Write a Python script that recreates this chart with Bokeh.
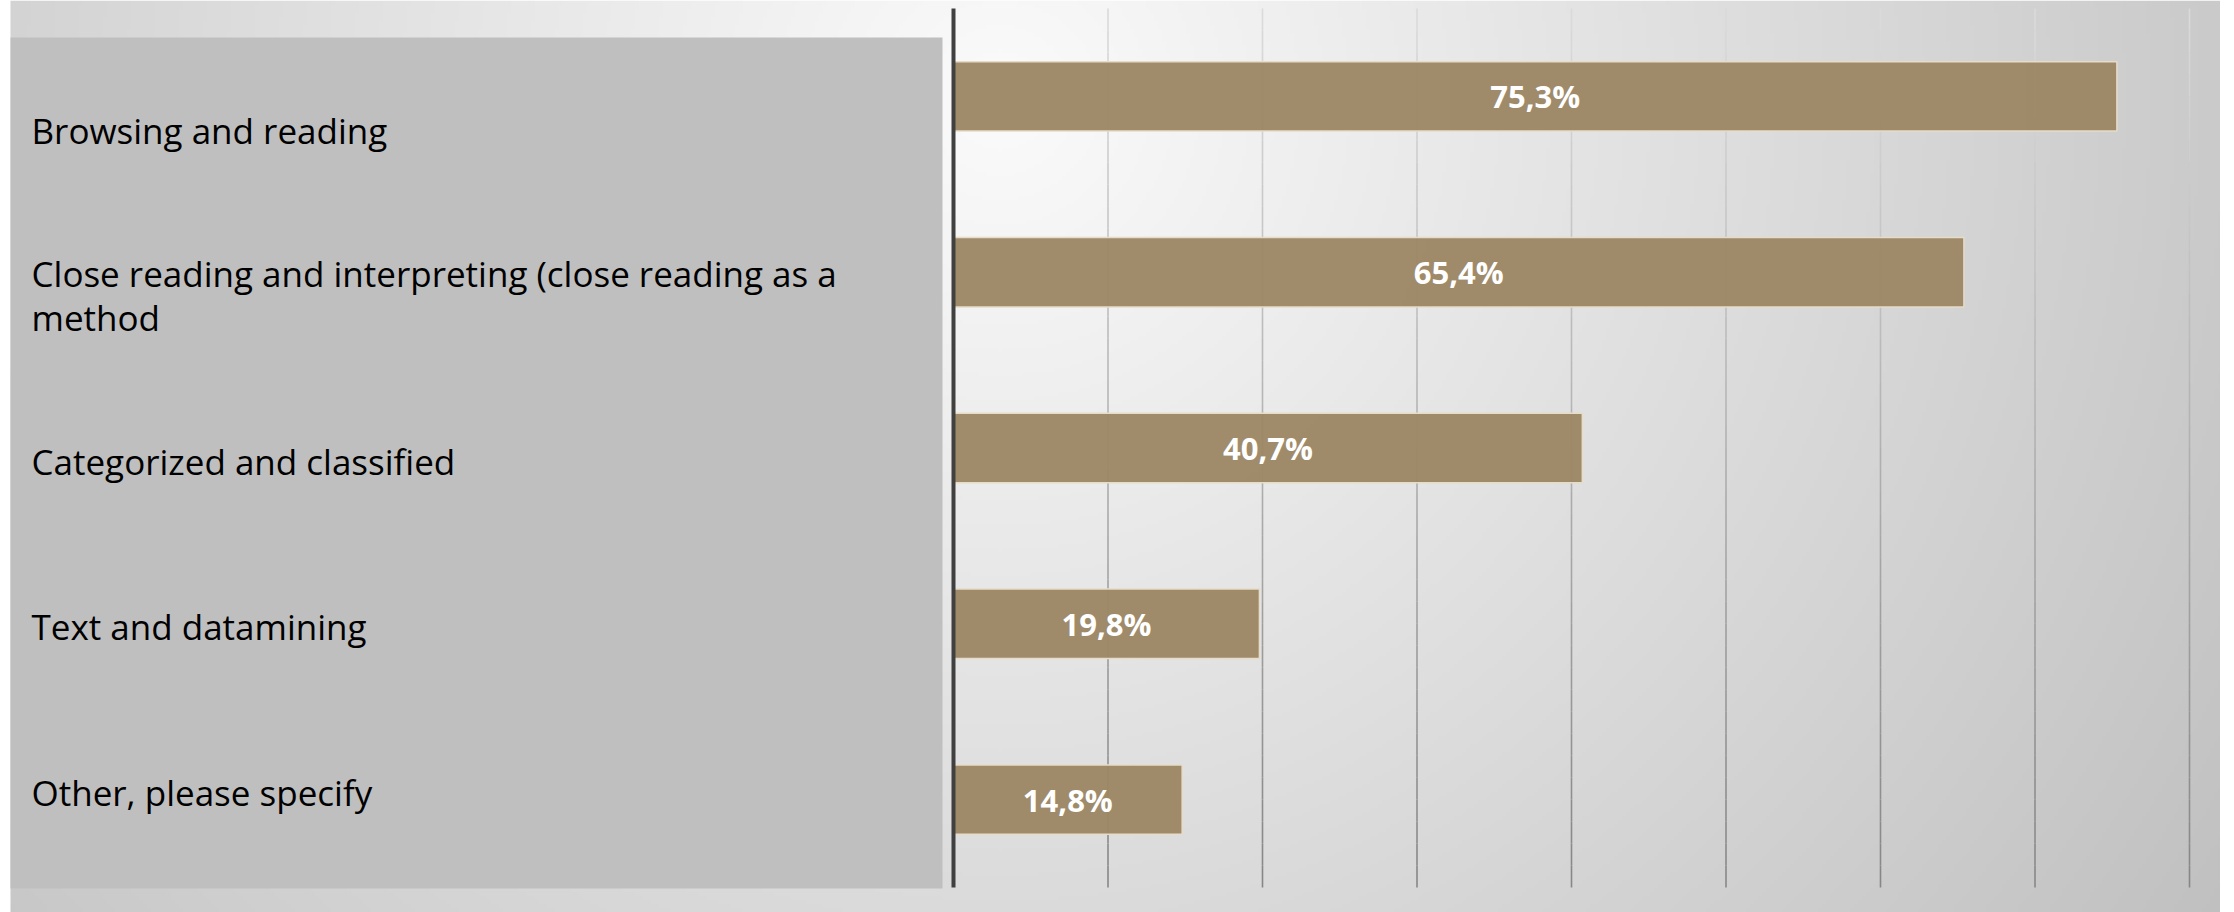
import numpy as np
from bokeh.plotting import figure
from bokeh.models import Range1d, ColumnDataSource
from bokeh.core.properties import value
from bokeh.embed import file_html
from bokeh.resources import INLINE

# ---------------- data ----------------
categories = [
    "Browsing and reading",
    "Close reading and interpreting (close reading as a\nmethod",
    "Categorized and classified",
    "Text and datamining",
    "Other, please specify",
]
percent = [75.3, 65.4, 40.7, 19.8, 14.8]
grid_ticks = [10, 20, 30, 40, 50, 60, 70, 80]

# ---------------- layout (pixels of the page) ----------------
FIG_W, FIG_H = 2220, 912
BG_LEFT = 10
X0_PX, PX_PER_PCT = 953.0, 15.45          # value 0 and scale of the x axis
ROW0_PX, ROW_PX = 95.9, 175.8             # centre of first bar row, row pitch
LBL0_PX, LBL_ROW_PX = 129.8, 165.5        # label rows in the left panel

def xdat(px):
    return (px - X0_PX) / PX_PER_PCT

def ydat(py):
    return (py - ROW0_PX) / ROW_PX

x_range = Range1d(xdat(0), xdat(FIG_W))
y_range = Range1d(start=ydat(FIG_H), end=ydat(0))

p = figure(width=FIG_W, height=FIG_H, x_range=x_range, y_range=y_range,
           x_axis_type=None, y_axis_type=None, toolbar_location=None,
           output_backend="svg", min_border=0)
p.outline_line_color = None
p.grid.visible = False
p.background_fill_color = "#ffffff"
p.border_fill_color = "#ffffff"

p.extra_x_ranges = {"bgx": Range1d(0, FIG_W)}
p.extra_y_ranges = {
    "bgy": Range1d(0, FIG_H),
    "panel": Range1d(start=(FIG_H - LBL0_PX) / LBL_ROW_PX,
                     end=(0 - LBL0_PX) / LBL_ROW_PX),
}

# ---------------- background gradient (decoration) ----------------
S = 4
bw = FIG_W - BG_LEFT
gw, gh = int(np.ceil(bw / S)), FIG_H // S
gx = BG_LEFT + (np.arange(gw) + 0.5) * S
gy = FIG_H - (np.arange(gh) + 0.5) * S          # image row 0 = bottom
GX, GY = np.meshgrid(gx, gy)
d = np.hypot(GX - 1000.0, GY - 100.0)
lum = np.clip(251.0 - 0.04 * d, 186, 252).astype(np.uint32)
img = ((255 << 24) | (lum << 16) | (lum << 8) | lum).astype(np.uint32)
p.image_rgba(image=[img], x=BG_LEFT, y=0, dw=gw * S, dh=FIG_H,
             x_range_name="bgx", y_range_name="bgy")

# ---------------- left label panel ----------------
p.quad(left=xdat(10), right=xdat(942), top=ydat(37), bottom=ydat(888),
       fill_color="#bfbfbf", line_color=None)

idx = list(range(len(categories)))
p.text(x=[xdat(31)] * len(categories), y=idx, text=categories,
       y_range_name="panel", text_font=value("Open Sans"),
       text_font_size="35px", text_color="#000000", text_align="left",
       text_baseline="middle", text_line_height=0.93)

# ---------------- grid lines (fading toward the top) ----------------
N = 40
ytop, ybot = ydat(8), ydat(887)
edges = np.linspace(ytop, ybot, N + 1)
c_top = np.array([0xdc, 0xdc, 0xdc])
c_bot = np.array([0x86, 0x86, 0x86])
gx0, gy0, gy1, gcol = [], [], [], []
for t in grid_ticks:
    for k in range(N):
        f = (k + 0.5) / N
        c = (c_top * (1 - f) + c_bot * f).astype(int)
        gx0.append(t)
        gy0.append(edges[k])
        gy1.append(edges[k + 1])
        gcol.append("#%02x%02x%02x" % tuple(c))
p.segment(x0=gx0, y0=gy0, x1=gx0, y1=gy1, line_color=gcol, line_width=1.6)

# ---------------- bars ----------------
src = ColumnDataSource(dict(
    y=idx, right=percent, mid=[v / 2 for v in percent],
    lab=[("%.1f" % v).replace(".", ",") + "%" for v in percent]))
p.hbar(y="y", left=0, right="right", height=0.395, source=src,
       fill_color="#9c8765", fill_alpha=0.96,
       line_color="#e6dcc8", line_width=1.5)

p.text(x="mid", y="y", text="lab", source=src,
       text_font=value("Open Sans"), text_font_style="bold",
       text_font_size="31px", text_color="#ffffff",
       text_align="center", text_baseline="middle")

# ---------------- vertical axis line ----------------
p.segment(x0=[0], y0=[ytop], x1=[0], y1=[ybot], line_color="#404040",
          line_width=4)

open("out.html", "w").write(file_html(p, INLINE))
